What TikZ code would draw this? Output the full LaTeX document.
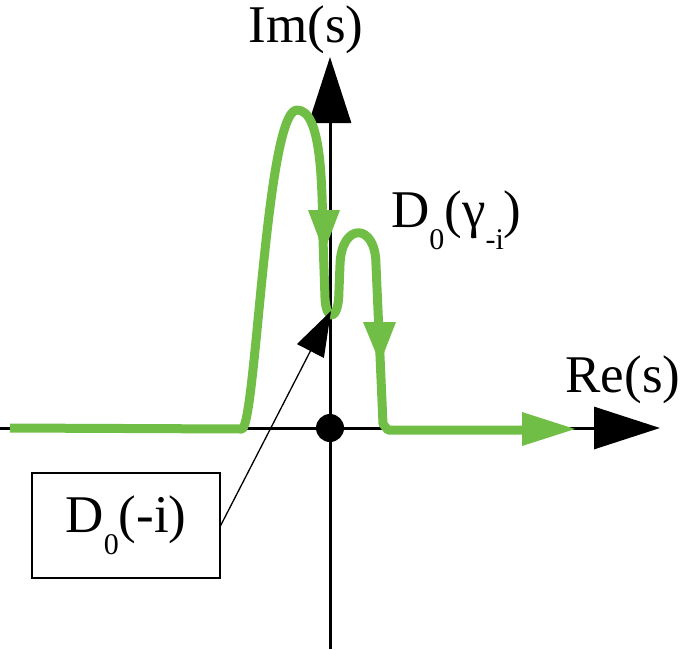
\documentclass[tikz,border=0pt]{standalone}
\usepackage{fontspec}
\setmainfont{Liberation Serif}
\usetikzlibrary{arrows.meta}
\definecolor{curvegreen}{RGB}{112,190,70}
\newcommand{\lowsub}[1]{\raisebox{-0.42em}{\fontsize{30}{30}\selectfont #1}}
\tikzset{
  axis/.style={line width=3pt,-{Triangle[length=66pt,width=42pt]}},
  contour/.style={line width=9pt,curvegreen,line join=round},
  garrow/.style={fill=curvegreen},
  lbl/.style={font=\fontsize{53}{53}\selectfont,inner sep=0pt},
  boxlbl/.style={draw,line width=1.3pt,minimum width=188pt,minimum height=105pt,font=\fontsize{53}{53}\selectfont,inner sep=0pt},
  leader/.style={line width=1.3pt,-{Triangle[length=45pt,width=30pt]}}
}
\begin{document}
\begin{tikzpicture}[x=1pt,y=-1pt]
\useasboundingbox (0,0) rectangle (685,649);
% axes
\coordinate (o) at (330,428);
\coordinate (xl) at (0,428);
\coordinate (xr) at (660,428);
\coordinate (yb) at (330,649);
\coordinate (yt) at (330,57);
\draw[axis] (xl) -- (xr);
\draw[axis] (yb) -- (yt);
\fill (o) circle (14);
% contour
\draw[contour] (10,428) -- (242,429)
  .. controls (256,425) and (266,110) .. (297,110)
  .. controls (322,110) and (322,185) .. (323,240)
  -- (325,298)
  .. controls (326,322) and (339,322) .. (339,290)
  -- (340,265)
  .. controls (341,222) and (376,222) .. (376,265)
  -- (383,424) -- (388,430) -- (540,430);
\fill[garrow] (308,210) -- (340,210) -- (324,252) -- cycle;
\fill[garrow] (363,322) -- (396,322) -- (380,363) -- cycle;
\fill[garrow] (522,412) -- (575,429) -- (522,446) -- cycle;
% labels
\node[lbl,anchor=base] (im) at (306,42) {Im(s)};
\node[lbl,anchor=base] (re) at (623,392) {Re(s)};
\node[lbl,anchor=base west] (dg) at (391,227) {D\lowsub{0}(γ\lowsub{-i})};
\node[boxlbl] (box) at (126,525.5) {D\lowsub{0}(-i)};
\coordinate (tip) at (331,311);
\draw[leader] (box.east) -- (tip);
\end{tikzpicture}
\end{document}
